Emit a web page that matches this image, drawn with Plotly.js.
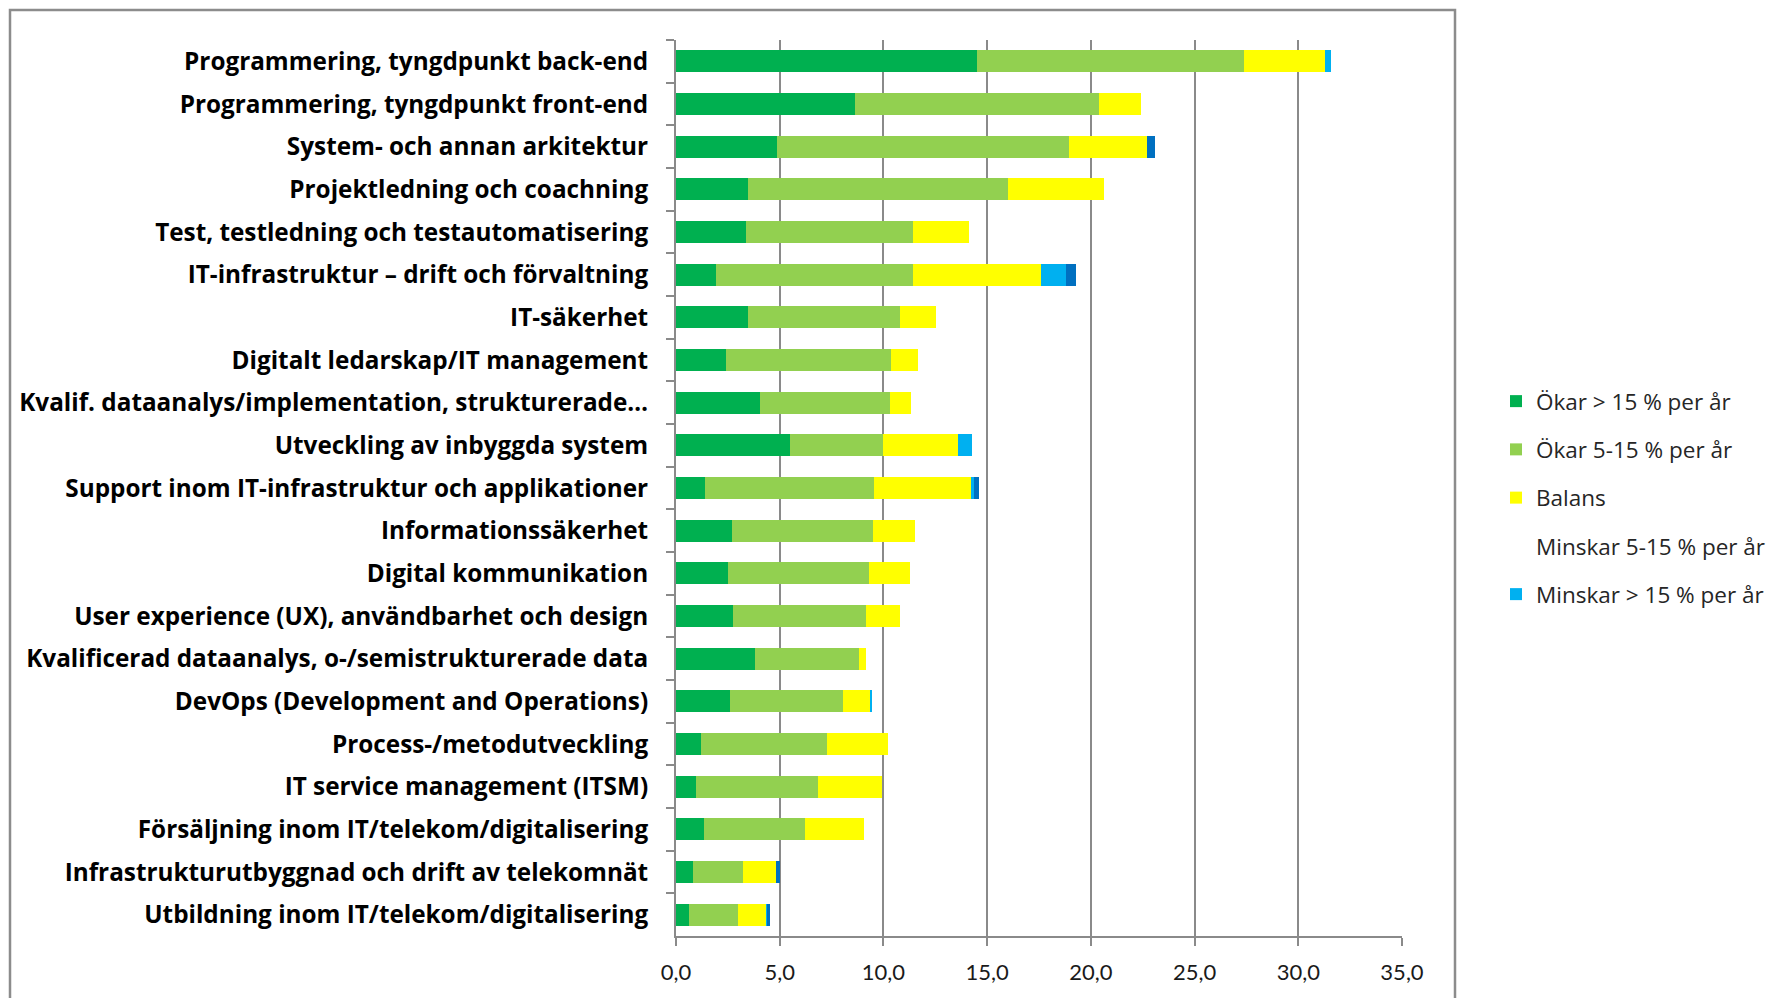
<!DOCTYPE html>
<html><head><meta charset="utf-8">
<script src="https://cdn.plot.ly/plotly-3.0.1.min.js"></script>
<style>html,body{margin:0;padding:0;background:#fff;}#chart{width:1777px;height:998px;}</style>
</head><body><div id="chart"></div>
<script>
const categories = [
  "Programmering, tyngdpunkt back-end",
  "Programmering, tyngdpunkt front-end",
  "System- och annan arkitektur",
  "Projektledning och coachning",
  "Test, testledning och testautomatisering",
  "IT-infrastruktur – drift och förvaltning",
  "IT-säkerhet",
  "Digitalt ledarskap/IT management",
  "Kvalif. dataanalys/implementation, strukturerade…",
  "Utveckling av inbyggda system",
  "Support inom IT-infrastruktur och applikationer",
  "Informationssäkerhet",
  "Digital kommunikation",
  "User experience (UX), användbarhet och design",
  "Kvalificerad dataanalys, o-/semistrukturerade data",
  "DevOps (Development and Operations)",
  "Process-/metodutveckling",
  "IT service management (ITSM)",
  "Försäljning inom IT/telekom/digitalisering",
  "Infrastrukturutbyggnad och drift av telekomnät",
  "Utbildning inom IT/telekom/digitalisering"
];
const okarOver15 = [14.52, 8.65, 4.87, 3.45, 3.39, 1.91, 3.45, 2.40, 4.06, 5.48, 1.38, 2.70, 2.52, 2.76, 3.82, 2.58, 1.22, 0.97, 1.34, 0.81, 0.62];
const okar5to15  = [12.85, 11.74, 14.09, 12.55, 8.04, 9.52, 7.35, 7.98, 6.25, 4.51, 8.18, 6.80, 6.80, 6.38, 5.01, 5.46, 6.07, 5.87, 4.89, 2.40, 2.35];
const balans     = [3.91, 2.03, 3.76, 4.63, 2.70, 6.19, 1.73, 1.27, 1.04, 3.59, 4.66, 2.03, 1.97, 1.66, 0.31, 1.31, 2.94, 3.09, 2.85, 1.61, 1.35];
const minskarLjus = [0.29, 0, 0, 0, 0, 1.17, 0, 0, 0, 0.67, 0.16, 0, 0, 0, 0, 0.11, 0, 0, 0, 0, 0.06];
const minskarMork = [0, 0, 0.37, 0, 0, 0.50, 0, 0, 0, 0, 0.24, 0, 0, 0, 0, 0, 0, 0, 0, 0.21, 0.13];
const legendNames = ["Ökar > 15 % per år", "Ökar 5-15 % per år", "Balans", "Minskar 5-15 % per år", "Minskar > 15 % per år"];
const xTicks = [0, 5, 10, 15, 20, 25, 30, 35];

const colors = ["#00B050", "#92D050", "#FFFF00", "#00B0F0", "#0070C0"];
function bar(vals, name, color, rank, show) {
  return {type: "bar", orientation: "h", x: vals, y: categories, name: name,
    marker: {color: color, line: {width: 0}}, legendrank: rank, legendgroup: "g" + rank,
    showlegend: show, hoverinfo: "x+name"};
}
const traces = [
  bar(okarOver15, legendNames[0], colors[0], 1, true),
  bar(okar5to15, legendNames[1], colors[1], 2, true),
  bar(balans, legendNames[2], colors[2], 3, true),
  bar(minskarLjus, legendNames[4], colors[3], 5, true),
  bar(minskarMork, legendNames[3], colors[4], 4, false),
  {type: "bar", orientation: "h", x: [null], y: [categories[0]], name: legendNames[3],
   marker: {color: "rgba(0,0,0,0)"}, legendrank: 4, legendgroup: "g4b", showlegend: true, hoverinfo: "skip"}
];

const L = 676, R = 1402, T = 40, B = 936;
const pw = R - L, ph = B - T;
const px = p => (p - L) / pw;
const py = p => (B - p) / ph;

const layout = {
  width: 1777, height: 998,
  margin: {l: L, r: 1777 - R, t: T, b: 998 - B, pad: 0},
  paper_bgcolor: "#ffffff", plot_bgcolor: "#ffffff",
  barmode: "stack", bargap: 0.49,
  separators: ", ",
  font: {family: "Lato, 'Open Sans', sans-serif", color: "#000"},
  xaxis: {range: [0, 35], tickvals: xTicks, tickformat: ".1f",
    showgrid: true, gridcolor: "#8a8a8a", gridwidth: 2,
    showline: true, linecolor: "#8a8a8a", linewidth: 2,
    ticks: "outside", ticklen: 8, tickwidth: 2, tickcolor: "#8a8a8a",
    zeroline: false, ticklabelstandoff: 8,
    tickfont: {family: "Lato, sans-serif", size: 22, color: "#1a1a1a"}, fixedrange: true},
  yaxis: {type: "category", autorange: "reversed",
    showline: true, linecolor: "#8a8a8a", linewidth: 2,
    ticks: "outside", tickson: "boundaries", ticklen: 8, tickwidth: 2, tickcolor: "#8a8a8a",
    showgrid: false, zeroline: false, ticklabelstandoff: 21,
    tickfont: {family: "'Open Sans', sans-serif", size: 24.3, color: "#000", weight: "bold"}, fixedrange: true},
  legend: {x: 1496 / 1777, xref: "container", y: 1 - 380 / 998, yref: "container",
    xanchor: "left", yanchor: "top", tracegroupgap: 16, bgcolor: "rgba(0,0,0,0)",
    font: {family: "'Open Sans', sans-serif", size: 22.5, color: "#262626"}, itemclick: false},
  shapes: [
    {type: "rect", xref: "paper", yref: "paper", x0: px(10), x1: px(1455), y0: py(1010), y1: py(10),
     line: {color: "#8c8c8c", width: 2.5}, fillcolor: "rgba(0,0,0,0)", layer: "below"}
  ],
  showlegend: true
};
Plotly.newPlot("chart", traces, layout, {displayModeBar: false, staticPlot: true});
</script>
</body></html>
